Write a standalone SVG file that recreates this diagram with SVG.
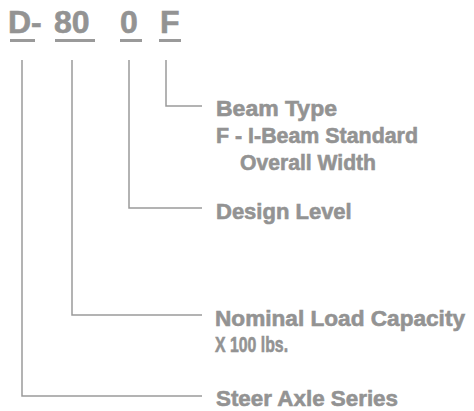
<svg xmlns="http://www.w3.org/2000/svg" width="474" height="411" viewBox="0 0 474 411">
<style>
.code{font-family:"Liberation Sans",Arial,sans-serif;font-weight:bold;font-size:32px;fill:#939393;stroke:#939393;stroke-width:0.6}
.lbl{font-family:"Liberation Sans",Arial,sans-serif;font-weight:bold;font-size:22px;fill:#939393;stroke:#939393;stroke-width:0.6}
.ul{fill:#9a9a9a}
.conn{fill:none;stroke:#9a9a9a;stroke-width:1.5}
</style>
<rect width="474" height="411" fill="#ffffff"/>
<g id="code">
<text class="code" x="8" y="33">D-</text>
<text class="code" x="54" y="33">80</text>
<text class="code" x="120" y="33">0</text>
<text class="code" x="160" y="33">F</text>
<rect class="ul" x="10" y="39" width="25" height="3"/>
<rect class="ul" x="55" y="39" width="40" height="3"/>
<rect class="ul" x="120" y="39" width="22" height="3"/>
<rect class="ul" x="159" y="39" width="22" height="3"/>
</g>
<g id="connectors">
<path class="conn" d="M166,60 V106 H202"/>
<path class="conn" d="M129,60 V208 H202"/>
<path class="conn" d="M72,60 V315 H202"/>
<path class="conn" d="M22,60 V396 H202"/>
</g>
<g id="beam-type">
<text class="lbl" x="216" y="116" textLength="121" lengthAdjust="spacingAndGlyphs">Beam Type</text>
<text class="lbl" x="216" y="143" textLength="202" lengthAdjust="spacingAndGlyphs">F - I-Beam Standard</text>
<text class="lbl" x="240" y="170" textLength="136" lengthAdjust="spacingAndGlyphs">Overall Width</text>
</g>
<g id="design-level">
<text class="lbl" x="216" y="219">Design Level</text>
</g>
<g id="load-capacity">
<text class="lbl" x="215" y="326" textLength="250" lengthAdjust="spacingAndGlyphs">Nominal Load Capacity</text>
<text class="lbl" transform="translate(215,352) scale(0.72,1)" x="0" y="0">X 100 lbs.</text>
</g>
<g id="series">
<text class="lbl" x="216" y="406" textLength="182" lengthAdjust="spacingAndGlyphs">Steer Axle Series</text>
</g>
</svg>
